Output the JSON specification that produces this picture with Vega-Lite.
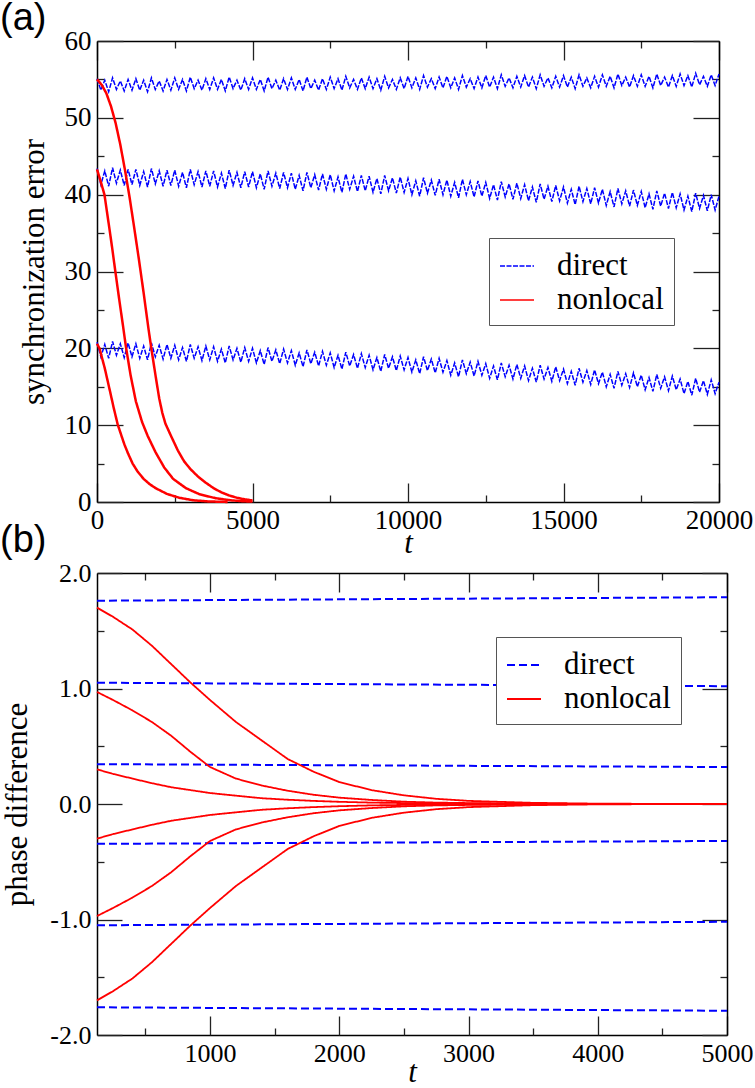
{
"$schema": "https://vega.github.io/schema/vega-lite/v6.json",
"padding": 0,
"background": "white",
"config": {
 "view": {"stroke": null},
 "axis": {"grid": false, "domainColor": "black", "domainWidth": 1.5, "tickColor": "#222222", "tickWidth": 1.3, "labelColor": "black", "labelFont": "Liberation Serif", "titleFont": "Liberation Serif", "titleColor": "black", "titleFontWeight": "normal", "labelFlush": false, "labelOverlap": false},
 "title": {"font": "Liberation Sans", "fontWeight": "normal", "color": "black", "anchor": "start", "frame": "group", "baseline": "alphabetic", "fontSize": 38}
},
"datasets": {
 "bandA": [
{"t":0,"a":55.1,"b":43.4,"c":20.8,"k":"direct"},{"t":125,"a":53.6,"b":41.3,"c":18.9,"k":"direct"},{"t":250,"a":54.9,"b":43.1,"c":20.5,"k":"direct"},{"t":375,"a":53.4,"b":41.1,"c":18.7,"k":"direct"},{"t":500,"a":55.2,"b":43.5,"c":20.9,"k":"direct"},{"t":625,"a":53.7,"b":41.5,"c":19.1,"k":"direct"},{"t":750,"a":54.8,"b":43.2,"c":20.6,"k":"direct"},{"t":875,"a":53.5,"b":41.2,"c":18.8,"k":"direct"},{"t":1000,"a":55.0,"b":43.3,"c":20.7,"k":"direct"},{"t":1125,"a":53.6,"b":41.3,"c":18.9,"k":"direct"},
{"t":1250,"a":55.1,"b":43.3,"c":20.6,"k":"direct"},{"t":1375,"a":53.6,"b":41.2,"c":18.7,"k":"direct"},{"t":1500,"a":54.9,"b":43.0,"c":20.3,"k":"direct"},{"t":1625,"a":53.4,"b":41.0,"c":18.5,"k":"direct"},{"t":1750,"a":55.2,"b":43.4,"c":20.7,"k":"direct"},{"t":1875,"a":53.7,"b":41.4,"c":18.9,"k":"direct"},{"t":2000,"a":54.8,"b":43.1,"c":20.4,"k":"direct"},{"t":2125,"a":53.5,"b":41.1,"c":18.6,"k":"direct"},{"t":2250,"a":55.0,"b":43.2,"c":20.5,"k":"direct"},{"t":2375,"a":53.6,"b":41.2,"c":18.7,"k":"direct"},
{"t":2500,"a":55.2,"b":43.2,"c":20.4,"k":"direct"},{"t":2625,"a":53.7,"b":41.1,"c":18.5,"k":"direct"},{"t":2750,"a":55.0,"b":42.9,"c":20.1,"k":"direct"},{"t":2875,"a":53.5,"b":40.9,"c":18.3,"k":"direct"},{"t":3000,"a":55.3,"b":43.3,"c":20.5,"k":"direct"},{"t":3125,"a":53.8,"b":41.3,"c":18.7,"k":"direct"},{"t":3250,"a":54.9,"b":43.0,"c":20.2,"k":"direct"},{"t":3375,"a":53.6,"b":41.0,"c":18.4,"k":"direct"},{"t":3500,"a":55.1,"b":43.1,"c":20.3,"k":"direct"},{"t":3625,"a":53.7,"b":41.1,"c":18.5,"k":"direct"},
{"t":3750,"a":55.2,"b":43.1,"c":20.2,"k":"direct"},{"t":3875,"a":53.7,"b":41.0,"c":18.3,"k":"direct"},{"t":4000,"a":55.0,"b":42.8,"c":19.9,"k":"direct"},{"t":4125,"a":53.5,"b":40.8,"c":18.1,"k":"direct"},{"t":4250,"a":55.3,"b":43.2,"c":20.3,"k":"direct"},{"t":4375,"a":53.8,"b":41.2,"c":18.5,"k":"direct"},{"t":4500,"a":54.9,"b":42.9,"c":20.0,"k":"direct"},{"t":4625,"a":53.6,"b":40.9,"c":18.2,"k":"direct"},{"t":4750,"a":55.1,"b":43.0,"c":20.1,"k":"direct"},{"t":4875,"a":53.7,"b":41.0,"c":18.3,"k":"direct"},
{"t":5000,"a":55.2,"b":43.0,"c":20.0,"k":"direct"},{"t":5125,"a":53.7,"b":40.9,"c":18.1,"k":"direct"},{"t":5250,"a":55.0,"b":42.7,"c":19.7,"k":"direct"},{"t":5375,"a":53.5,"b":40.7,"c":17.9,"k":"direct"},{"t":5500,"a":55.3,"b":43.1,"c":20.1,"k":"direct"},{"t":5625,"a":53.8,"b":41.1,"c":18.3,"k":"direct"},{"t":5750,"a":54.9,"b":42.8,"c":19.8,"k":"direct"},{"t":5875,"a":53.6,"b":40.8,"c":18.0,"k":"direct"},{"t":6000,"a":55.1,"b":42.9,"c":19.9,"k":"direct"},{"t":6125,"a":53.7,"b":40.9,"c":18.1,"k":"direct"},
{"t":6250,"a":55.2,"b":42.8,"c":19.7,"k":"direct"},{"t":6375,"a":53.7,"b":40.7,"c":17.8,"k":"direct"},{"t":6500,"a":55.0,"b":42.5,"c":19.4,"k":"direct"},{"t":6625,"a":53.5,"b":40.5,"c":17.6,"k":"direct"},{"t":6750,"a":55.3,"b":42.9,"c":19.8,"k":"direct"},{"t":6875,"a":53.8,"b":40.9,"c":18.0,"k":"direct"},{"t":7000,"a":54.9,"b":42.6,"c":19.5,"k":"direct"},{"t":7125,"a":53.6,"b":40.6,"c":17.7,"k":"direct"},{"t":7250,"a":55.1,"b":42.7,"c":19.6,"k":"direct"},{"t":7375,"a":53.7,"b":40.7,"c":17.8,"k":"direct"},
{"t":7500,"a":55.3,"b":42.6,"c":19.4,"k":"direct"},{"t":7625,"a":53.8,"b":40.5,"c":17.5,"k":"direct"},{"t":7750,"a":55.1,"b":42.3,"c":19.1,"k":"direct"},{"t":7875,"a":53.6,"b":40.3,"c":17.3,"k":"direct"},{"t":8000,"a":55.4,"b":42.7,"c":19.5,"k":"direct"},{"t":8125,"a":53.9,"b":40.7,"c":17.7,"k":"direct"},{"t":8250,"a":55.0,"b":42.4,"c":19.2,"k":"direct"},{"t":8375,"a":53.7,"b":40.4,"c":17.4,"k":"direct"},{"t":8500,"a":55.2,"b":42.5,"c":19.3,"k":"direct"},{"t":8625,"a":53.8,"b":40.5,"c":17.5,"k":"direct"},
{"t":8750,"a":55.3,"b":42.4,"c":19.1,"k":"direct"},{"t":8875,"a":53.8,"b":40.3,"c":17.2,"k":"direct"},{"t":9000,"a":55.1,"b":42.1,"c":18.8,"k":"direct"},{"t":9125,"a":53.6,"b":40.1,"c":17.0,"k":"direct"},{"t":9250,"a":55.4,"b":42.5,"c":19.2,"k":"direct"},{"t":9375,"a":53.9,"b":40.5,"c":17.4,"k":"direct"},{"t":9500,"a":55.0,"b":42.2,"c":18.9,"k":"direct"},{"t":9625,"a":53.7,"b":40.2,"c":17.1,"k":"direct"},{"t":9750,"a":55.2,"b":42.3,"c":19.0,"k":"direct"},{"t":9875,"a":53.8,"b":40.3,"c":17.2,"k":"direct"},
{"t":10000,"a":55.4,"b":42.1,"c":18.8,"k":"direct"},{"t":10125,"a":53.9,"b":40.0,"c":16.9,"k":"direct"},{"t":10250,"a":55.2,"b":41.8,"c":18.5,"k":"direct"},{"t":10375,"a":53.7,"b":39.8,"c":16.7,"k":"direct"},{"t":10500,"a":55.5,"b":42.2,"c":18.9,"k":"direct"},{"t":10625,"a":54.0,"b":40.2,"c":17.1,"k":"direct"},{"t":10750,"a":55.1,"b":41.9,"c":18.6,"k":"direct"},{"t":10875,"a":53.8,"b":39.9,"c":16.8,"k":"direct"},{"t":11000,"a":55.3,"b":42.0,"c":18.7,"k":"direct"},{"t":11125,"a":53.9,"b":40.0,"c":16.9,"k":"direct"},
{"t":11250,"a":55.4,"b":41.9,"c":18.4,"k":"direct"},{"t":11375,"a":53.9,"b":39.8,"c":16.5,"k":"direct"},{"t":11500,"a":55.2,"b":41.6,"c":18.1,"k":"direct"},{"t":11625,"a":53.7,"b":39.6,"c":16.3,"k":"direct"},{"t":11750,"a":55.5,"b":42.0,"c":18.5,"k":"direct"},{"t":11875,"a":54.0,"b":40.0,"c":16.7,"k":"direct"},{"t":12000,"a":55.1,"b":41.7,"c":18.2,"k":"direct"},{"t":12125,"a":53.8,"b":39.7,"c":16.4,"k":"direct"},{"t":12250,"a":55.3,"b":41.8,"c":18.3,"k":"direct"},{"t":12375,"a":53.9,"b":39.8,"c":16.5,"k":"direct"},
{"t":12500,"a":55.5,"b":41.6,"c":18.0,"k":"direct"},{"t":12625,"a":54.0,"b":39.5,"c":16.1,"k":"direct"},{"t":12750,"a":55.3,"b":41.3,"c":17.7,"k":"direct"},{"t":12875,"a":53.8,"b":39.3,"c":15.9,"k":"direct"},{"t":13000,"a":55.6,"b":41.7,"c":18.1,"k":"direct"},{"t":13125,"a":54.1,"b":39.7,"c":16.3,"k":"direct"},{"t":13250,"a":55.2,"b":41.4,"c":17.8,"k":"direct"},{"t":13375,"a":53.9,"b":39.4,"c":16.0,"k":"direct"},{"t":13500,"a":55.4,"b":41.5,"c":17.9,"k":"direct"},{"t":13625,"a":54.0,"b":39.5,"c":16.1,"k":"direct"},
{"t":13750,"a":55.5,"b":41.3,"c":17.7,"k":"direct"},{"t":13875,"a":54.0,"b":39.2,"c":15.8,"k":"direct"},{"t":14000,"a":55.3,"b":41.0,"c":17.4,"k":"direct"},{"t":14125,"a":53.8,"b":39.0,"c":15.6,"k":"direct"},{"t":14250,"a":55.6,"b":41.4,"c":17.8,"k":"direct"},{"t":14375,"a":54.1,"b":39.4,"c":16.0,"k":"direct"},{"t":14500,"a":55.2,"b":41.1,"c":17.5,"k":"direct"},{"t":14625,"a":53.9,"b":39.1,"c":15.7,"k":"direct"},{"t":14750,"a":55.4,"b":41.2,"c":17.6,"k":"direct"},{"t":14875,"a":54.0,"b":39.2,"c":15.8,"k":"direct"},
{"t":15000,"a":55.5,"b":41.0,"c":17.3,"k":"direct"},{"t":15125,"a":54.0,"b":38.9,"c":15.4,"k":"direct"},{"t":15250,"a":55.3,"b":40.7,"c":17.0,"k":"direct"},{"t":15375,"a":53.8,"b":38.7,"c":15.2,"k":"direct"},{"t":15500,"a":55.6,"b":41.1,"c":17.4,"k":"direct"},{"t":15625,"a":54.1,"b":39.1,"c":15.6,"k":"direct"},{"t":15750,"a":55.2,"b":40.8,"c":17.1,"k":"direct"},{"t":15875,"a":53.9,"b":38.8,"c":15.3,"k":"direct"},{"t":16000,"a":55.4,"b":40.9,"c":17.2,"k":"direct"},{"t":16125,"a":54.0,"b":38.9,"c":15.4,"k":"direct"},
{"t":16250,"a":55.6,"b":40.7,"c":16.9,"k":"direct"},{"t":16375,"a":54.1,"b":38.6,"c":15.0,"k":"direct"},{"t":16500,"a":55.4,"b":40.4,"c":16.6,"k":"direct"},{"t":16625,"a":53.9,"b":38.4,"c":14.8,"k":"direct"},{"t":16750,"a":55.7,"b":40.8,"c":17.0,"k":"direct"},{"t":16875,"a":54.2,"b":38.8,"c":15.2,"k":"direct"},{"t":17000,"a":55.3,"b":40.5,"c":16.7,"k":"direct"},{"t":17125,"a":54.0,"b":38.5,"c":14.9,"k":"direct"},{"t":17250,"a":55.5,"b":40.6,"c":16.8,"k":"direct"},{"t":17375,"a":54.1,"b":38.6,"c":15.0,"k":"direct"},
{"t":17500,"a":55.6,"b":40.4,"c":16.5,"k":"direct"},{"t":17625,"a":54.1,"b":38.3,"c":14.6,"k":"direct"},{"t":17750,"a":55.4,"b":40.1,"c":16.2,"k":"direct"},{"t":17875,"a":53.9,"b":38.1,"c":14.4,"k":"direct"},{"t":18000,"a":55.7,"b":40.5,"c":16.6,"k":"direct"},{"t":18125,"a":54.2,"b":38.5,"c":14.8,"k":"direct"},{"t":18250,"a":55.3,"b":40.2,"c":16.3,"k":"direct"},{"t":18375,"a":54.0,"b":38.2,"c":14.5,"k":"direct"},{"t":18500,"a":55.5,"b":40.3,"c":16.4,"k":"direct"},{"t":18625,"a":54.1,"b":38.3,"c":14.6,"k":"direct"},
{"t":18750,"a":55.7,"b":40.1,"c":16.0,"k":"direct"},{"t":18875,"a":54.2,"b":38.0,"c":14.1,"k":"direct"},{"t":19000,"a":55.5,"b":39.8,"c":15.7,"k":"direct"},{"t":19125,"a":54.0,"b":37.8,"c":13.9,"k":"direct"},{"t":19250,"a":55.8,"b":40.2,"c":16.1,"k":"direct"},{"t":19375,"a":54.3,"b":38.2,"c":14.3,"k":"direct"},{"t":19500,"a":55.4,"b":39.9,"c":15.8,"k":"direct"},{"t":19625,"a":54.1,"b":37.9,"c":14.0,"k":"direct"},{"t":19750,"a":55.6,"b":40.0,"c":15.9,"k":"direct"},{"t":19875,"a":54.2,"b":38.0,"c":14.1,"k":"direct"},
{"t":20000,"a":55.7,"b":39.8,"c":15.6,"k":"direct"}
 ],
 "redA": [
{"g":1,"t":0,"v":55.0,"k":"nonlocal"},{"g":1,"t":150,"v":54.3,"k":"nonlocal"},{"g":1,"t":300,"v":53.2,"k":"nonlocal"},{"g":1,"t":450,"v":51.5,"k":"nonlocal"},{"g":1,"t":600,"v":49.3,"k":"nonlocal"},{"g":1,"t":750,"v":46.5,"k":"nonlocal"},{"g":1,"t":900,"v":43.2,"k":"nonlocal"},{"g":1,"t":1050,"v":39.6,"k":"nonlocal"},{"g":1,"t":1200,"v":35.6,"k":"nonlocal"},{"g":1,"t":1350,"v":31.5,"k":"nonlocal"},{"g":1,"t":1500,"v":27.2,"k":"nonlocal"},{"g":1,"t":1650,"v":22.7,"k":"nonlocal"},{"g":1,"t":1750,"v":19.9,"k":"nonlocal"},{"g":1,"t":1900,"v":16.0,"k":"nonlocal"},{"g":1,"t":2000,"v":13.5,"k":"nonlocal"},{"g":1,"t":2100,"v":11.6,"k":"nonlocal"},{"g":1,"t":2200,"v":10.2,"k":"nonlocal"},{"g":1,"t":2380,"v":8.6,"k":"nonlocal"},{"g":1,"t":2600,"v":6.7,"k":"nonlocal"},{"g":1,"t":2800,"v":5.3,"k":"nonlocal"},{"g":1,"t":3000,"v":4.3,"k":"nonlocal"},{"g":1,"t":3250,"v":3.3,"k":"nonlocal"},{"g":1,"t":3500,"v":2.5,"k":"nonlocal"},{"g":1,"t":3750,"v":1.8,"k":"nonlocal"},{"g":1,"t":4000,"v":1.25,"k":"nonlocal"},{"g":1,"t":4250,"v":0.85,"k":"nonlocal"},{"g":1,"t":4500,"v":0.55,"k":"nonlocal"},{"g":1,"t":4750,"v":0.35,"k":"nonlocal"},{"g":1,"t":5000,"v":0.2,"k":"nonlocal"},
{"g":2,"t":0,"v":43.3,"k":"nonlocal"},{"g":2,"t":120,"v":41.7,"k":"nonlocal"},{"g":2,"t":240,"v":40.0,"k":"nonlocal"},{"g":2,"t":330,"v":37.5,"k":"nonlocal"},{"g":2,"t":420,"v":35.0,"k":"nonlocal"},{"g":2,"t":500,"v":32.7,"k":"nonlocal"},{"g":2,"t":590,"v":30.0,"k":"nonlocal"},{"g":2,"t":720,"v":26.2,"k":"nonlocal"},{"g":2,"t":830,"v":23.1,"k":"nonlocal"},{"g":2,"t":930,"v":20.2,"k":"nonlocal"},{"g":2,"t":1080,"v":16.5,"k":"nonlocal"},{"g":2,"t":1250,"v":13.1,"k":"nonlocal"},{"g":2,"t":1450,"v":10.4,"k":"nonlocal"},{"g":2,"t":1630,"v":8.6,"k":"nonlocal"},{"g":2,"t":1880,"v":6.5,"k":"nonlocal"},{"g":2,"t":2160,"v":4.5,"k":"nonlocal"},{"g":2,"t":2450,"v":3.0,"k":"nonlocal"},{"g":2,"t":2860,"v":1.8,"k":"nonlocal"},{"g":2,"t":3300,"v":1.0,"k":"nonlocal"},{"g":2,"t":3810,"v":0.5,"k":"nonlocal"},{"g":2,"t":4300,"v":0.22,"k":"nonlocal"},{"g":2,"t":4700,"v":0.1,"k":"nonlocal"},{"g":2,"t":5000,"v":0.05,"k":"nonlocal"},
{"g":3,"t":0,"v":20.6,"k":"nonlocal"},{"g":3,"t":80,"v":20.0,"k":"nonlocal"},{"g":3,"t":250,"v":17.4,"k":"nonlocal"},{"g":3,"t":430,"v":14.2,"k":"nonlocal"},{"g":3,"t":540,"v":12.2,"k":"nonlocal"},{"g":3,"t":665,"v":10.1,"k":"nonlocal"},{"g":3,"t":780,"v":8.7,"k":"nonlocal"},{"g":3,"t":880,"v":7.5,"k":"nonlocal"},{"g":3,"t":1000,"v":6.3,"k":"nonlocal"},{"g":3,"t":1146,"v":5.0,"k":"nonlocal"},{"g":3,"t":1300,"v":4.0,"k":"nonlocal"},{"g":3,"t":1500,"v":3.0,"k":"nonlocal"},{"g":3,"t":1700,"v":2.3,"k":"nonlocal"},{"g":3,"t":1885,"v":1.8,"k":"nonlocal"},{"g":3,"t":2250,"v":1.05,"k":"nonlocal"},{"g":3,"t":2646,"v":0.55,"k":"nonlocal"},{"g":3,"t":3100,"v":0.22,"k":"nonlocal"},{"g":3,"t":3600,"v":0.07,"k":"nonlocal"},{"g":3,"t":4200,"v":0.01,"k":"nonlocal"}
 ],
 "blueB": [
{"t":125,"a":1.76,"b":1.05,"c":0.345,"d":-0.345,"e":-1.05,"f":-1.76,"k":"direct"},
{"t":2500,"a":1.775,"b":1.035,"c":0.333,"d":-0.333,"e":-1.035,"f":-1.775,"k":"direct"},
{"t":5000,"a":1.79,"b":1.02,"c":0.32,"d":-0.32,"e":-1.02,"f":-1.79,"k":"direct"}
 ],
 "redB": [
{"t":125,"a":1.70,"b":0.97,"c":0.30,"d":-0.30,"e":-0.97,"f":-1.70,"k":"nonlocal"},
{"t":250,"a":1.62,"b":0.90,"c":0.26,"d":-0.26,"e":-0.90,"f":-1.62,"k":"nonlocal"},
{"t":400,"a":1.51,"b":0.81,"c":0.22,"d":-0.22,"e":-0.81,"f":-1.51,"k":"nonlocal"},
{"t":550,"a":1.37,"b":0.71,"c":0.18,"d":-0.18,"e":-0.71,"f":-1.37,"k":"nonlocal"},
{"t":700,"a":1.21,"b":0.59,"c":0.145,"d":-0.145,"e":-0.59,"f":-1.21,"k":"nonlocal"},
{"t":850,"a":1.05,"b":0.45,"c":0.12,"d":-0.12,"e":-0.45,"f":-1.05,"k":"nonlocal"},
{"t":1000,"a":0.90,"b":0.32,"c":0.095,"d":-0.095,"e":-0.32,"f":-0.90,"k":"nonlocal"},
{"t":1200,"a":0.71,"b":0.22,"c":0.072,"d":-0.072,"e":-0.22,"f":-0.71,"k":"nonlocal"},
{"t":1400,"a":0.55,"b":0.16,"c":0.05,"d":-0.05,"e":-0.16,"f":-0.55,"k":"nonlocal"},
{"t":1600,"a":0.39,"b":0.115,"c":0.037,"d":-0.037,"e":-0.115,"f":-0.39,"k":"nonlocal"},
{"t":1800,"a":0.28,"b":0.08,"c":0.027,"d":-0.027,"e":-0.08,"f":-0.28,"k":"nonlocal"},
{"t":2000,"a":0.19,"b":0.055,"c":0.019,"d":-0.019,"e":-0.055,"f":-0.19,"k":"nonlocal"},
{"t":2250,"a":0.12,"b":0.035,"c":0.012,"d":-0.012,"e":-0.035,"f":-0.12,"k":"nonlocal"},
{"t":2500,"a":0.075,"b":0.02,"c":0.008,"d":-0.008,"e":-0.02,"f":-0.075,"k":"nonlocal"},
{"t":2750,"a":0.045,"b":0.012,"c":0.005,"d":-0.005,"e":-0.012,"f":-0.045,"k":"nonlocal"},
{"t":3000,"a":0.027,"b":0.008,"c":0.003,"d":-0.003,"e":-0.008,"f":-0.027,"k":"nonlocal"},
{"t":3500,"a":0.01,"b":0.003,"c":0.001,"d":-0.001,"e":-0.003,"f":-0.01,"k":"nonlocal"},
{"t":4000,"a":0.003,"b":0.001,"c":0,"d":0,"e":-0.001,"f":-0.003,"k":"nonlocal"},
{"t":4500,"a":0.001,"b":0,"c":0,"d":0,"e":0,"f":-0.001,"k":"nonlocal"},
{"t":5000,"a":0,"b":0,"c":0,"d":0,"e":0,"f":0,"k":"nonlocal"}
 ]
},
"concat": [
 {
  "width": 622, "height": 461,
  "title": {"text": "(a)", "dx": -97, "offset": -11},
  "layer": [
   {
    "data": {"name": "bandA"},
    "transform": [{"fold": ["a","b","c"], "as": ["g","v"]}],
    "mark": {"type": "line", "strokeWidth": 1.5},
    "encoding": {
     "x": {"field": "t", "type": "quantitative", "scale": {"domain": [0,20000], "nice": false, "zero": false},
       "axis": {"orient": "bottom", "values": [0,5000,10000,15000,20000], "format": "d", "ticks": false, "labelFont": "Liberation Serif", "labelFontSize": 27, "labelPadding": 5, "title": "t", "titleFont": "Liberation Serif", "titleFontSize": 31, "titleFontStyle": "italic", "titlePadding": -5}},
     "y": {"field": "v", "type": "quantitative", "scale": {"domain": [0,60], "nice": false},
       "axis": {"orient": "left", "values": [0,10,20,30,40,50,60], "format": "d", "ticks": false, "labelFont": "Liberation Serif", "labelFontSize": 27, "labelPadding": 6, "title": "synchronization error", "titleFont": "Liberation Serif", "titleFontSize": 31, "titlePadding": 14}},
     "color": {"field": "k", "type": "nominal", "scale": {"domain": ["direct","nonlocal"], "range": ["#0000ff","#ff0000"]},
       "legend": {"orient": "none", "legendX": 392, "legendY": 197, "title": null, "symbolType": "stroke", "symbolSize": 1156, "symbolStrokeWidth": 1.3, "labelFont": "Liberation Serif", "labelFontSize": 31, "labelColor": "black", "labelOffset": 22, "labelLimit": 400, "padding": 10, "rowPadding": 1, "strokeColor": "#555555", "fillColor": "white"}},
     "strokeDash": {"field": "k", "type": "nominal", "scale": {"domain": ["direct","nonlocal"], "range": [[5,1.5],[1,0]]},
       "legend": {"orient": "none", "legendX": 392, "legendY": 197, "title": null, "symbolType": "stroke", "symbolSize": 1156, "symbolStrokeWidth": 1.3, "labelFont": "Liberation Serif", "labelFontSize": 31, "labelColor": "black", "labelOffset": 22, "labelLimit": 400, "padding": 10, "rowPadding": 1, "strokeColor": "#555555", "fillColor": "white"}},
     "detail": {"field": "g"}
    }
   },
   {
    "data": {"name": "redA"},
    "mark": {"type": "line", "strokeWidth": 2.5},
    "encoding": {
     "x": {"field": "t", "type": "quantitative", "axis": {"orient": "bottom", "values": [0,2500,5000,7500,10000,12500,15000,17500,20000], "domain": false, "labels": false, "title": null, "tickSize": {"condition": {"test": "datum.value % 5000 === 0", "value": -19}, "value": -7}}},
     "y": {"field": "v", "type": "quantitative", "axis": {"orient": "left", "values": [0,5,10,15,20,25,30,35,40,45,50,55,60], "domain": false, "labels": false, "title": null, "tickSize": {"condition": {"test": "datum.value % 10 === 0", "value": -26}, "value": -7}}},
     "color": {"field": "k", "type": "nominal"},
     "strokeDash": {"field": "k", "type": "nominal"},
     "detail": {"field": "g"}
    }
   },
   {
    "data": {"name": "redA"},
    "mark": {"type": "line", "opacity": 0},
    "encoding": {
     "x": {"field": "t", "type": "quantitative", "axis": {"orient": "top", "values": [0,2500,5000,7500,10000,12500,15000,17500,20000], "domain": true, "labels": false, "title": null, "tickSize": {"condition": {"test": "datum.value % 5000 === 0", "value": -19}, "value": -7}}},
     "y": {"field": "v", "type": "quantitative", "axis": {"orient": "right", "values": [0,5,10,15,20,25,30,35,40,45,50,55,60], "domain": true, "labels": false, "title": null, "tickSize": {"condition": {"test": "datum.value % 10 === 0", "value": -26}, "value": -7}}},
     "detail": {"field": "g"}
    }
   }
  ],
  "resolve": {"axis": {"x": "independent", "y": "independent"}}
 },
 {
  "width": 630, "height": 462,
  "title": {"text": "(b)", "dx": -97, "offset": 0},
  "layer": [
   {
    "data": {"name": "blueB"},
    "transform": [{"fold": ["a","b","c","d","e","f"], "as": ["g","v"]}],
    "mark": {"type": "line", "strokeWidth": 2},
    "encoding": {
     "x": {"field": "t", "type": "quantitative", "scale": {"domain": [125,5000], "nice": false, "zero": false},
       "axis": {"orient": "bottom", "values": [1000,2000,3000,4000,5000], "format": "d", "ticks": false, "labelFont": "Liberation Serif", "labelFontSize": 26, "labelPadding": 5.5, "title": "t", "titleFont": "Liberation Serif", "titleFontSize": 31, "titleFontStyle": "italic", "titlePadding": -9}},
     "y": {"field": "v", "type": "quantitative", "scale": {"domain": [-2,2], "nice": false},
       "axis": {"orient": "left", "values": [-2,-1,0,1,2], "ticks": false, "labelExpr": "(datum.value < 0 ? '-' : '') + format(abs(datum.value), '.1f')", "labelFont": "Liberation Serif", "labelFontSize": 26, "labelPadding": 6, "title": "phase difference", "titleFont": "Liberation Serif", "titleFontSize": 31, "titlePadding": 16}},
     "color": {"field": "k", "type": "nominal", "scale": {"domain": ["direct","nonlocal"], "range": ["#0000ff","#ff0000"]},
       "legend": {"orient": "none", "legendX": 399, "legendY": 64, "title": null, "symbolType": "stroke", "symbolSize": 1156, "symbolStrokeWidth": 2, "labelFont": "Liberation Serif", "labelFontSize": 31, "labelColor": "black", "labelOffset": 22, "labelLimit": 400, "padding": 10, "rowPadding": 1, "strokeColor": "#555555", "fillColor": "white"}},
     "strokeDash": {"field": "k", "type": "nominal", "scale": {"domain": ["direct","nonlocal"], "range": [[8,4],[1,0]]},
       "legend": {"orient": "none", "legendX": 399, "legendY": 64, "title": null, "symbolType": "stroke", "symbolSize": 1156, "symbolStrokeWidth": 2, "labelFont": "Liberation Serif", "labelFontSize": 31, "labelColor": "black", "labelOffset": 22, "labelLimit": 400, "padding": 10, "rowPadding": 1, "strokeColor": "#555555", "fillColor": "white"}},
     "detail": {"field": "g"}
    }
   },
   {
    "data": {"name": "redB"},
    "transform": [{"fold": ["a","b","c","d","e","f"], "as": ["g","v"]}],
    "mark": {"type": "line", "strokeWidth": 1.8},
    "encoding": {
     "x": {"field": "t", "type": "quantitative", "axis": {"orient": "bottom", "values": [500,1000,1500,2000,2500,3000,3500,4000,4500,5000], "domain": false, "labels": false, "title": null, "tickSize": {"condition": {"test": "datum.value % 1000 === 0", "value": -19}, "value": -7}}},
     "y": {"field": "v", "type": "quantitative", "axis": {"orient": "left", "values": [-2,-1.5,-1,-0.5,0,0.5,1,1.5,2], "domain": false, "labels": false, "title": null, "tickSize": {"condition": {"test": "datum.value % 1 === 0", "value": -25}, "value": -7}}},
     "color": {"field": "k", "type": "nominal"},
     "strokeDash": {"field": "k", "type": "nominal"},
     "detail": {"field": "g"}
    }
   },
   {
    "data": {"name": "redB"},
    "transform": [{"fold": ["a"], "as": ["g","v"]}],
    "mark": {"type": "line", "opacity": 0},
    "encoding": {
     "x": {"field": "t", "type": "quantitative", "axis": {"orient": "top", "values": [500,1000,1500,2000,2500,3000,3500,4000,4500,5000], "domain": true, "labels": false, "title": null, "tickSize": {"condition": {"test": "datum.value % 1000 === 0", "value": -19}, "value": -7}}},
     "y": {"field": "v", "type": "quantitative", "axis": {"orient": "right", "values": [-2,-1.5,-1,-0.5,0,0.5,1,1.5,2], "domain": true, "labels": false, "title": null, "tickSize": {"condition": {"test": "datum.value % 1 === 0", "value": -25}, "value": -7}}},
     "detail": {"field": "g"}
    }
   }
  ],
  "resolve": {"axis": {"x": "independent", "y": "independent"}}
 }
],
"columns": 1,
"align": "none",
"spacing": -36,
"resolve": {"scale": {"color": "independent", "strokeDash": "independent"}, "legend": {"color": "independent", "strokeDash": "independent"}}
}
